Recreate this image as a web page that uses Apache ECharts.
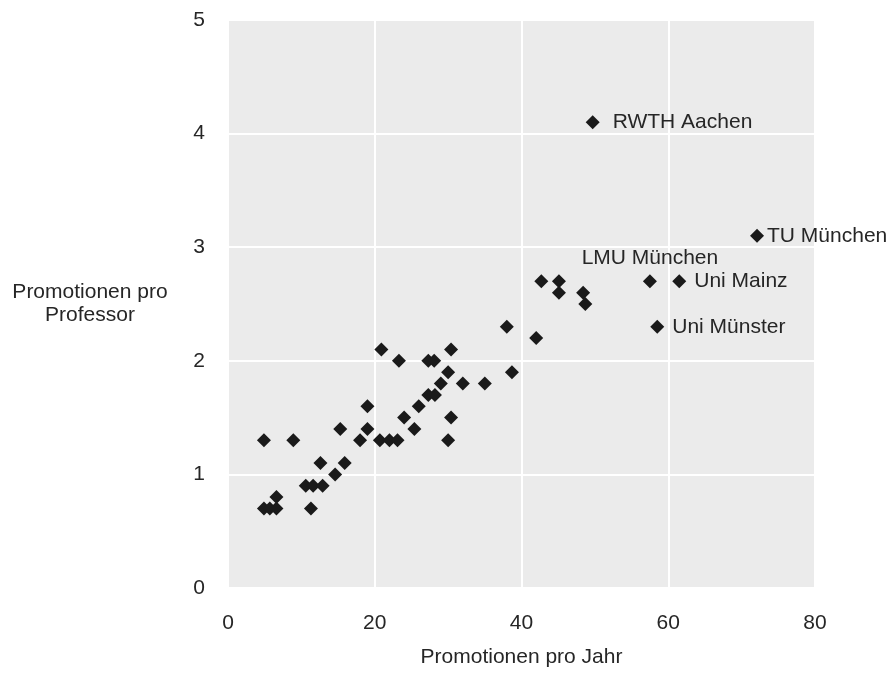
<!DOCTYPE html>
<html>
<head>
<meta charset="utf-8">
<script src="https://cdn.jsdelivr.net/npm/echarts@6/dist/echarts.min.js"></script>
<style>
  html, body { margin: 0; padding: 0; background: #ffffff; }
  #chart { width: 891px; height: 673px; }
</style>
</head>
<body>
<div id="chart"></div>
<script>
// Promotionen pro Jahr (x) / Promotionen pro Professor (y), unbeschriftete Hochschulen
const promotionenProJahr = [
  38.0, 20.9, 23.3, 27.3, 28.1, 30.4, 30.0, 29.0, 32.0, 35.0,
  38.7, 27.3, 28.2, 26.0, 19.0, 24.0, 30.4, 25.4, 15.3, 19.0,
  4.9, 8.9, 18.0, 20.7, 22.0, 23.1, 30.0, 12.6, 15.9, 14.6,
  10.6, 11.6, 12.9, 6.6, 4.9, 5.7, 6.6, 11.3,
  42.0, 42.7, 45.1, 45.1, 48.4, 48.7
]
const promotionenProProfessor = [
  2.3, 2.1, 2.0, 2.0, 2.0, 2.1, 1.9, 1.8, 1.8, 1.8,
  1.9, 1.7, 1.7, 1.6, 1.6, 1.5, 1.5, 1.4, 1.4, 1.4,
  1.3, 1.3, 1.3, 1.3, 1.3, 1.3, 1.3, 1.1, 1.1, 1.0,
  0.9, 0.9, 0.9, 0.8, 0.7, 0.7, 0.7, 0.7,
  2.2, 2.7, 2.7, 2.6, 2.6, 2.5
]

// beschriftete Hochschulen
const hochschulen = ['RWTH Aachen', 'TU München', 'LMU München', 'Uni Mainz', 'Uni Münster']
const hochschulenProJahr = [49.7, 72.1, 57.5, 61.5, 58.5]
const hochschulenProProfessor = [4.1, 3.1, 2.7, 2.7, 2.3]

// Achsen
const xTicks = [0, 20, 40, 60, 80]
const yTicks = [0, 1, 2, 3, 4, 5]

// Platzierung der Beschriftungen (nur Layout)
const labelPlacement = {
  'RWTH Aachen': { position: 'right', distance: 13 },
  'TU München': { position: 'right', distance: 3 },
  'LMU München': { position: 'top', distance: 6, offset: [10, 0] },
  'Uni Mainz': { position: 'right', distance: 8 },
  'Uni Münster': { position: 'right', distance: 8 }
}

const fontFamily = '"Liberation Sans", Arial, Helvetica, sans-serif'
const textColor = '#262626'
const markerColor = '#1a1a1a'

const chart = echarts.init(document.getElementById('chart'), null, { renderer: 'canvas' })

const option = {
  animation: false,
  backgroundColor: '#ffffff',
  textStyle: { fontFamily, color: textColor },
  grid: {
    left: 228,
    right: 76,
    top: 20,
    bottom: 81,
    show: true,
    backgroundColor: '#ebebeb',
    borderWidth: 0
  },
  xAxis: {
    type: 'value',
    min: xTicks[0],
    max: xTicks[xTicks.length - 1],
    interval: xTicks[1] - xTicks[0],
    name: 'Promotionen pro Jahr',
    nameLocation: 'middle',
    nameGap: 59,
    nameTextStyle: { fontSize: 21, color: textColor, fontFamily },
    axisLine: { show: false },
    axisTick: { show: false },
    axisLabel: { margin: 25, fontSize: 21, color: textColor, fontFamily },
    splitLine: { lineStyle: { color: '#ffffff', width: 2 } }
  },
  yAxis: {
    type: 'value',
    min: yTicks[0],
    max: yTicks[yTicks.length - 1],
    interval: yTicks[1] - yTicks[0],
    name: 'Promotionen pro\nProfessor',
    nameLocation: 'middle',
    nameRotate: 0,
    nameGap: 138,
    nameTextStyle: { fontSize: 21, lineHeight: 23, align: 'center', verticalAlign: 'middle', color: textColor, fontFamily },
    axisLine: { show: false },
    axisTick: { show: false },
    axisLabel: { margin: 23, fontSize: 21, color: textColor, fontFamily },
    splitLine: { lineStyle: { color: '#ffffff', width: 2 } }
  },
  series: [
    {
      type: 'scatter',
      symbol: 'diamond',
      symbolSize: 14,
      itemStyle: { color: markerColor, opacity: 1 },
      data: promotionenProJahr.map((x, i) => [x, promotionenProProfessor[i]])
    },
    {
      type: 'scatter',
      symbol: 'diamond',
      symbolSize: 14,
      itemStyle: { color: markerColor, opacity: 1 },
      label: {
        show: true,
        formatter: '{b}',
        fontSize: 21,
        color: textColor,
        fontFamily
      },
      labelLayout: { hideOverlap: false },
      data: hochschulen.map((name, i) => ({
        name,
        value: [hochschulenProJahr[i], hochschulenProProfessor[i]],
        label: labelPlacement[name]
      }))
    }
  ]
}

chart.setOption(option)
window.addEventListener('resize', () => chart.resize())
</script>
</body>
</html>
